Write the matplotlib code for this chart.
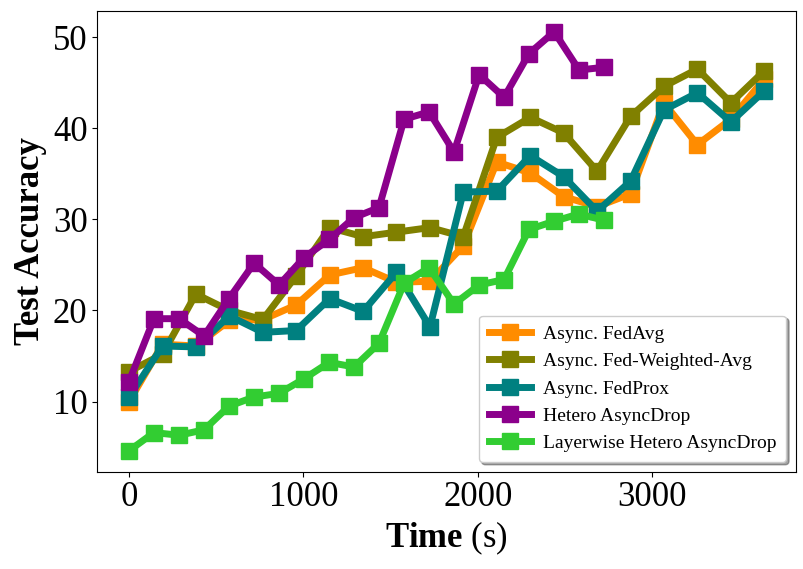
import matplotlib
matplotlib.use("Agg")
import matplotlib.pyplot as plt

# Time stamps (s) for each run
time_fed = [0, 192, 383, 575, 767, 958, 1150, 1342, 1533, 1725,
            1916, 2108, 2300, 2491, 2683, 2875, 3066, 3258, 3450, 3641]
time_drop = [0, 143, 287, 430, 573, 717, 860, 1003, 1147, 1290,
             1433, 1577, 1720, 1863, 2007, 2150, 2293, 2437, 2580, 2723]

# Test accuracy per method
fedavg = [10.0, 16.3, 16.1, 18.9, 19.0, 20.6, 23.9, 24.7, 23.1, 23.2,
          27.1, 36.3, 35.1, 32.5, 31.4, 32.8, 42.8, 38.2, 41.0, 45.4]
fed_weighted = [13.3, 15.2, 21.8, 20.0, 19.0, 23.8, 29.1, 28.1, 28.6, 29.1,
                28.1, 39.0, 41.2, 39.5, 35.3, 41.3, 44.6, 46.5, 42.8, 46.3]
fedprox = [10.5, 16.1, 16.0, 19.4, 17.6, 17.8, 21.3, 19.9, 24.2, 18.2,
           33.0, 33.1, 37.0, 34.7, 30.9, 34.2, 42.0, 43.9, 40.7, 44.1]
hetero = [12.2, 19.1, 19.1, 17.2, 21.3, 25.2, 22.8, 25.8, 27.8, 30.2,
          31.3, 41.0, 41.8, 37.4, 45.9, 43.4, 48.2, 50.6, 46.4, 46.7]
layerwise = [4.6, 6.6, 6.3, 6.9, 9.5, 10.5, 10.9, 12.5, 14.3, 13.8,
             16.4, 23.0, 24.7, 20.7, 22.8, 23.4, 28.9, 29.8, 30.6, 29.9]

plt.rcParams["font.family"] = "Liberation Serif"
plt.rcParams["mathtext.fontset"] = "custom"
plt.rcParams["mathtext.rm"] = "Liberation Serif"
plt.rcParams["mathtext.bf"] = "Liberation Serif:bold"

fig = plt.figure(figsize=(8.04, 5.69), dpi=100)
ax = fig.add_axes([0.121, 0.171, 0.869, 0.810])

style = dict(marker="s", linewidth=5, markersize=11)
ax.plot(time_fed, fedavg, color="darkorange", label="Async. FedAvg", **style)
ax.plot(time_fed, fed_weighted, color="olive", label="Async. Fed-Weighted-Avg", **style)
ax.plot(time_fed, fedprox, color="teal", label="Async. FedProx", **style)
ax.plot(time_drop, hetero, color="darkmagenta", label="Hetero AsyncDrop", **style)
ax.plot(time_drop, layerwise, color="limegreen", label="Layerwise Hetero AsyncDrop", **style)

ax.set_xticks([0, 1000, 2000, 3000])
ax.set_yticks([10, 20, 30, 40, 50])
ax.tick_params(labelsize=25)
ax.set_xlabel(r"$\mathbf{Time}$ (s)", fontsize=25)
ax.set_ylabel("Test Accuracy", fontsize=25, fontweight="bold")

ax.legend(loc="lower right", fontsize=14, shadow=True, fancybox=True,
          handlelength=2.2, labelspacing=0.5, borderpad=0.5,
          handletextpad=0.6)

fig.savefig("out.png", dpi=100)
